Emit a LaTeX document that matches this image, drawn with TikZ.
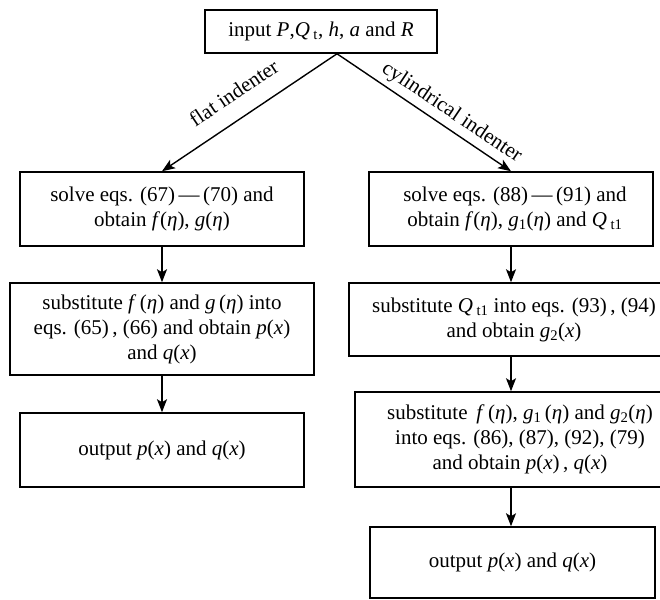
\documentclass[tikz,border=0pt]{standalone}
\usepackage{fontspec}
\setmainfont{Liberation Serif}
\usetikzlibrary{arrows.meta}
\newcommand{\mi}[1]{\textit{#1}}
\newcommand{\sbt}[1]{\textsubscript{#1}}
\tikzset{
  fbox/.style={draw, line width=1.5pt, inner sep=0pt, align=center,
    font=\fontsize{21}{25}\selectfont},
  arr/.style={line width=1.4pt, -{Stealth[length=13pt,width=10pt,inset=3pt]}},
  lbl/.style={font=\fontsize{21}{23}\selectfont, sloped, inner sep=5pt}
}
\begin{document}
\begin{tikzpicture}[x=1pt,y=-1pt]
\useasboundingbox (0,0) rectangle (660,599);
\clip (0,0) rectangle (660,599);

\node[fbox, minimum width=232pt, minimum height=43pt] (top) at (321,31.5)
  {input \mi{P},\mi{Q}\,\sbt{t}, \mi{h}, \mi{a} and \mi{R}};

\node[fbox, minimum width=284pt, minimum height=74pt] (L1) at (162,209)
  {solve eqs. (67)\,—\,(70) and\\obtain \mi{f}(\mi{η}), \mi{g}(\mi{η})};
\node[fbox, minimum width=304pt, minimum height=92pt] (L2) at (162,329)
  {substitute \mi{f}\,(\mi{η}) and \mi{g}\,(\mi{η}) into\\eqs. (65)\,, (66) and obtain \mi{p}(\mi{x})\\and \mi{q}(\mi{x})};
\node[fbox, minimum width=284pt, minimum height=74pt] (L3) at (162,450)
  {output \mi{p}(\mi{x}) and \mi{q}(\mi{x})};

\node[fbox, minimum width=284pt, minimum height=74pt] (R1) at (511,209)
  {\hspace*{8pt}solve eqs. (88)\,—\,(91) and\\\hspace*{8pt}obtain \mi{f}(\mi{η}), \mi{g}\sbt{1}(\mi{η}) and \mi{Q}\,\sbt{t1}};
\node[fbox, minimum width=330pt, minimum height=73pt] (R2) at (514,319.5)
  {substitute \mi{Q}\,\sbt{t1} into eqs. (93)\,, (94)\\and obtain \mi{g}\sbt{2}(\mi{x})};
\node[fbox, minimum width=330pt, minimum height=95pt] (R3) at (520,439.5)
  {substitute \,\mi{f}\,(\mi{η}), \mi{g}\sbt{1}\,(\mi{η}) and \mi{g}\sbt{2}(\mi{η})\\into eqs. (86), (87), (92), (79)\\and obtain \mi{p}(\mi{x})\,, \mi{q}(\mi{x})};
\node[fbox, minimum width=285pt, minimum height=71pt] (R4) at (512.5,562.5)
  {output \mi{p}(\mi{x}) and \mi{q}(\mi{x})};

\coordinate (split) at ([xshift=16pt]top.south);
\draw[arr] (split) -- (L1.north) node[lbl, above=12pt, pos=0.51] {flat indenter};
\draw[arr] (split) -- (R1.north) node[lbl, above, pos=0.61] {cylindrical indenter};

\draw[arr] (L1.south) -- (L2.north);
\draw[arr] (L2.south) -- (L3.north);
\draw[arr] (R1.south) -- (R1.south |- R2.north);
\draw[arr] (R1.south |- R2.south) -- (R1.south |- R3.north);
\draw[arr] (R1.south |- R3.south) -- (R1.south |- R4.north);
\end{tikzpicture}
\end{document}
